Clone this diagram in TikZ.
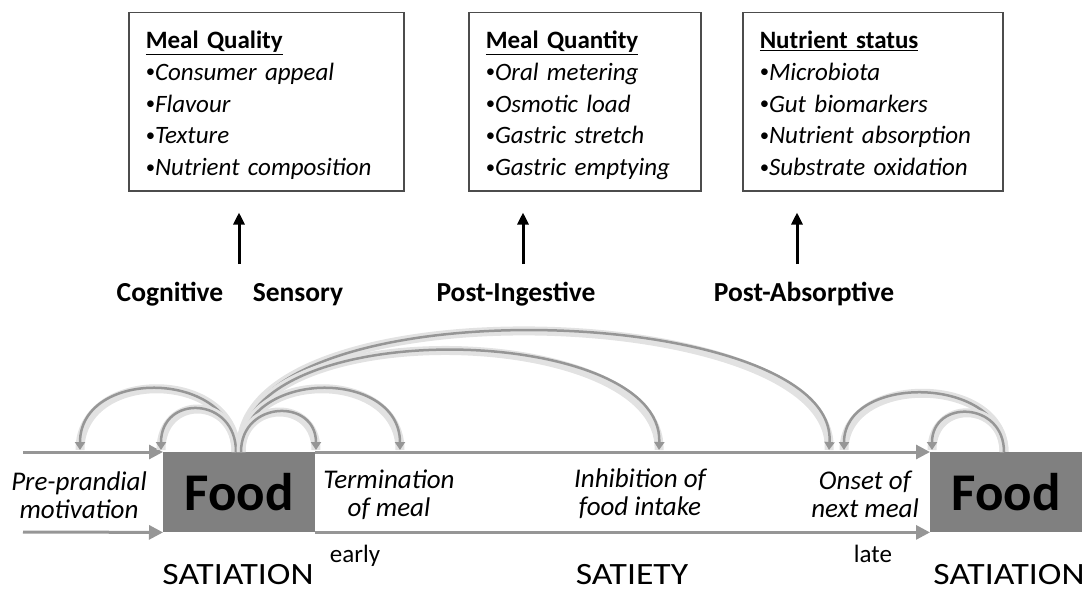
\documentclass[tikz,border=0pt]{standalone}
\usepackage{graphicx}
\usepackage{fontspec}
\setmainfont{Carlito}
\newfontfamily\stagefont[FakeStretch=1.15]{Carlito}
\usetikzlibrary{arrows.meta}
\definecolor{linegray}{RGB}{150,150,150}
\definecolor{boxgray}{RGB}{128,128,128}
\definecolor{glowgray}{RGB}{226,226,226}
\newcommand{\itembullet}{\raisebox{0.1em}{\scalebox{0.75}{\textbullet}}}
\newcommand{\firstline}{\rule{0pt}{30pt}}
\newcommand{\lastline}{\rule[-9pt]{0pt}{9pt}}
\tikzset{
  infobox/.style={draw=black!70,line width=1.5pt,anchor=north west,align=left,
    inner xsep=17pt,inner ysep=0pt,minimum height=178pt,
    font=\fontsize{25}{31.75}\selectfont},
  foodbox/.style={fill=boxgray,anchor=north west,inner sep=0pt,
    font=\fontsize{53}{60}\selectfont\bfseries},
  flow/.style={draw=linegray,line width=3pt,-{Triangle[length=14pt,width=14pt]}},
  feedback/.style={draw=linegray,line width=2.5pt,-{Triangle[length=8pt,width=10pt]},
    preaction={draw=glowgray,line width=9pt,-}},
  upward/.style={draw=black,line width=3pt,-{Triangle[length=12pt,width=11pt]}},
  aspect/.style={font=\fontsize{27.5}{30}\selectfont\bfseries,anchor=base},
  phase/.style={font=\fontsize{27}{28}\selectfont\itshape,align=center},
  timing/.style={font=\fontsize{25}{28}\selectfont,anchor=base},
  stage/.style={font=\fontsize{31}{34}\selectfont\stagefont,anchor=base,inner sep=1pt}
}
\begin{document}
\begin{tikzpicture}[x=1pt,y=-1pt]
\useasboundingbox (0,0) rectangle (1087,591);
% boxes at the top
\node[infobox,text width=241pt] (quality) at (128,12)
{\firstline\underline{\textbf{Meal Quality}}\\
\itembullet\textit{Consumer appeal}\\
\itembullet\textit{Flavour}\\
\itembullet\textit{Texture}\\
\itembullet\textit{Nutrient composition}\lastline};
\node[infobox,text width=198pt] (quantity) at (468,12)
{\firstline\underline{\textbf{Meal Quantity}}\\
\itembullet\textit{Oral metering}\\
\itembullet\textit{Osmotic load}\\
\itembullet\textit{Gastric stretch}\\
\itembullet\textit{Gastric emptying}\lastline};
\node[infobox,text width=226pt] (status) at (742,12)
{\firstline\underline{\textbf{Nutrient status}}\\
\itembullet\textit{Microbiota}\\
\itembullet\textit{Gut biomarkers}\\
\itembullet\textit{Nutrient absorption}\\
\itembullet\textit{Substrate oxidation}\lastline};
% arrows up and their labels
\coordinate (qin) at (239,264);
\coordinate (nin) at (523,264);
\coordinate (sin) at (797,264);
\draw[upward,shorten >=21pt] (qin) -- (qin |- quality.south);
\draw[upward,shorten >=21pt] (nin) -- (nin |- quantity.south);
\draw[upward,shorten >=21pt] (sin) -- (sin |- status.south);
\node[aspect] (cog) at (170,301) {Cognitive};
\node[aspect] (sens) at (298,301) {Sensory};
\node[aspect] (postin) at (516,301) {Post-Ingestive};
\node[aspect] (postab) at (804,301) {Post-Absorptive};
% food boxes
\node[foodbox,minimum width=152pt,minimum height=80pt] (food1) at (163,452) {Food};
\node[foodbox,minimum width=152pt,minimum height=80pt] (food2) at (930,452) {Food};
% time line
\coordinate (tl) at (23,452);
\coordinate (bl) at (23,532);
\draw[flow] (tl) -- (food1.north west);
\draw[flow] (bl) -- (food1.south west);
\draw[flow] (food1.north east) -- (food2.north west);
\draw[flow] (food1.south east) -- (food2.south west);
% feedback arcs
\coordinate (s1) at (236,452);
\coordinate (s2) at (241,452);
\coordinate (s3) at (1004,452);
\coordinate (h1) at (80,450);
\coordinate (h2) at (161,450);
\coordinate (h3) at (316,450);
\coordinate (h4) at (400,450);
\coordinate (h5) at (659,450);
\coordinate (h6) at (829,450);
\coordinate (h7) at (844,450);
\coordinate (h8) at (932,450);
\draw[feedback] (s1) .. controls +(0,-83) and +(0,-83) .. (h1);
\draw[feedback] (s2) .. controls +(-10,-170) and +(10,-150) .. (h6);
\draw[feedback] (s2) .. controls +(-5,-140) and +(5,-128) .. (h5);
\draw[feedback] (s2) .. controls +(0,-83) and +(0,-83) .. (h4);
\draw[feedback] (s1) .. controls +(0,-56) and +(0,-56) .. (h2);
\draw[feedback] (s2) .. controls +(0,-52) and +(0,-52) .. (h3);
\draw[feedback] (s3) .. controls +(0,-77) and +(0,-77) .. (h7);
\draw[feedback] (s3) .. controls +(0,-51) and +(0,-51) .. (h8);
% labels on the time line
\node[phase] (pre) at (79,495) {Pre-prandial\\motivation};
\node[phase] (term) at (389,495) {Termination\\of meal};
\node[phase] (inhib) at (640,494) {Inhibition of\\food intake};
\node[phase] (onset) at (865,494) {Onset of\\next meal};
\node[timing] (early) at (355,562) {early};
\node[timing] (late) at (873,562) {late};
\node[stage] (sat1) at (238,584) {SATIATION};
\node[stage] (sty) at (632,584) {SATIETY};
\node[stage] (sat2) at (1009,584) {SATIATION};
\end{tikzpicture}
\end{document}
